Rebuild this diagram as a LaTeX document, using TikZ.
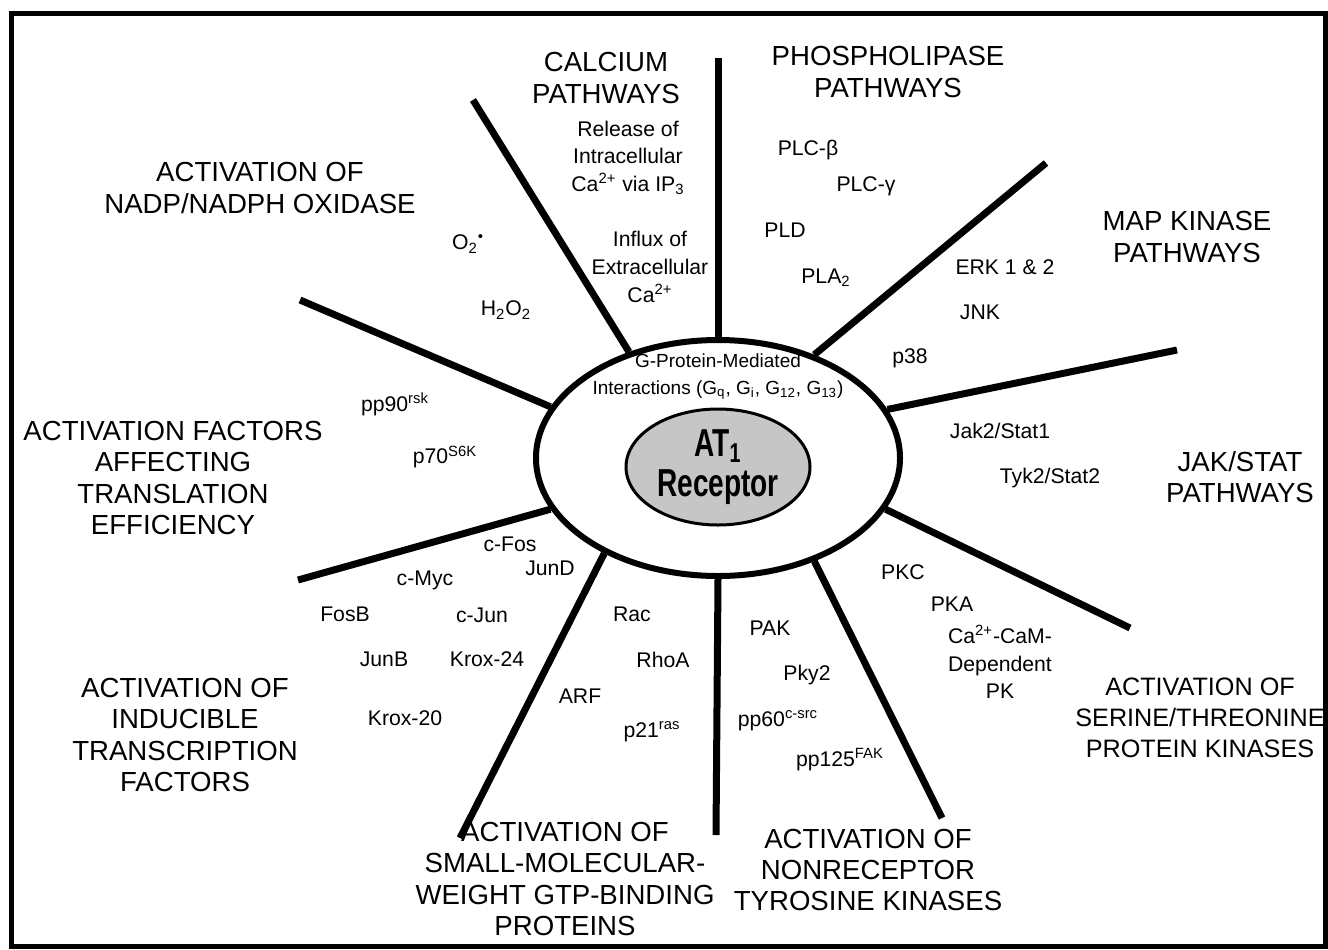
\documentclass[tikz,border=0pt]{standalone}
\usepackage{fontspec}
\setmainfont{Liberation Sans}
\newfontfamily\receptorfont[FakeStretch=0.72]{Liberation Sans}
\usetikzlibrary{shapes.geometric}

\begin{document}
\begin{tikzpicture}[
		x=0.5pt, y=-0.5pt,
		pathway/.style={align=center, inner sep=0pt, font=\fontsize{13.8}{15.6}\selectfont},
		item/.style={align=center, inner sep=0pt, font=\fontsize{10.6}{13.8}\selectfont},
		spoke/.style={line width=3.5pt},
		hub/.style={draw, ellipse, line width=3pt, minimum width=182pt, minimum height=118pt, inner sep=0pt},
		receptor/.style={draw, ellipse, line width=1.5pt, fill=gray!45, minimum width=92pt, minimum height=58pt, inner sep=0pt, align=center, font=\receptorfont\bfseries\fontsize{19.5}{20}\selectfont},
	]
		\useasboundingbox (0,0) rectangle (1328,949);
		\draw[line width=2.5pt] (11,13) rectangle (1325,946);

		\node [hub] (hub) at (718,458) {};
		\node [receptor] (at1) at (718,467) {AT\textsubscript{1}\\Receptor};
		\node [item, font=\fontsize{9.5}{13.5}\selectfont] (gprot) at (718,376) {G-Protein-Mediated\\Interactions (G\textsubscript{q}, G\textsubscript{i}, G\textsubscript{12}, G\textsubscript{13})};

		\coordinate (s1) at (718,58);
		\coordinate (s2) at (473,100);
		\coordinate (s3) at (300,300);
		\coordinate (s4) at (298,580);
		\coordinate (s5) at (460,838);
		\coordinate (s6) at (716,835);
		\coordinate (s7) at (942,818);
		\coordinate (s8) at (1130,628);
		\coordinate (s9) at (1177,350);
		\coordinate (s10) at (1046,163);
		\foreach \a/\s in {90/s1, 130/s2, 163/s3, 197/s4, 220/s5, 270/s6, 313/s7, 343/s8, 16/s9, 47/s10}
			\draw [spoke] (hub.\a) -- (\s);

		% pathway headings
		\node [pathway] (calcium) at (606,78) {CALCIUM\\PATHWAYS};
		\node [pathway] (phospho) at (888,72) {PHOSPHOLIPASE\\PATHWAYS};
		\node [pathway] (nadph) at (260,188) {ACTIVATION OF\\NADP/NADPH OXIDASE};
		\node [pathway] (mapk) at (1187,237) {MAP KINASE\\PATHWAYS};
		\node [pathway] (jakstat) at (1240,477) {JAK/STAT\\PATHWAYS};
		\node [pathway] (transl) at (173,478) {ACTIVATION FACTORS\\AFFECTING\\TRANSLATION\\EFFICIENCY};
		\node [pathway] (transc) at (185,735) {ACTIVATION OF\\INDUCIBLE\\TRANSCRIPTION\\FACTORS};
		\node [pathway] (gtp) at (565,879) {ACTIVATION OF\\SMALL-MOLECULAR-\\WEIGHT GTP-BINDING\\PROTEINS};
		\node [pathway] (tyrosine) at (868,870) {ACTIVATION OF\\NONRECEPTOR\\TYROSINE KINASES};
		\node [pathway, font=\fontsize{12.6}{15.6}\selectfont] (serine) at (1200,718) {ACTIVATION OF\\SERINE/THREONINE\\PROTEIN KINASES};

		% calcium
		\node [item] (release) at (628,158) {Release of\\Intracellular\\Ca\textsuperscript{2+} via IP\textsubscript{3}};
		\node [item] (influx) at (650,267) {Influx of\\Extracellular\\Ca\textsuperscript{2+}};
		% phospholipase
		\node [item] (plcb) at (808,150) {PLC-β};
		\node [item] (plcg) at (866,186) {PLC-γ};
		\node [item] (pld) at (785,230) {PLD};
		\node [item] (pla2) at (826,278) {PLA\textsubscript{2}};
		% map kinase
		\node [item] (erk) at (1005,267) {ERK 1 \& 2};
		\node [item] (jnk) at (980,312) {JNK};
		\node [item] (p38) at (910,358) {p38};
		% jak/stat
		\node [item] (jak2) at (1000,431) {Jak2/Stat1};
		\node [item] (tyk2) at (1050,478) {Tyk2/Stat2};
		% serine/threonine
		\node [item] (pkc) at (903,572) {PKC};
		\node [item] (pka) at (952,604) {PKA};
		\node [item] (camk) at (1000,662) {Ca\textsuperscript{2+}-CaM-\\Dependent\\PK};
		% nonreceptor tyrosine
		\node [item] (pak) at (770,628) {PAK};
		\node [item] (pky2) at (807,675) {Pky2};
		\node [item] (src) at (778,721) {pp60\textsuperscript{c-src}};
		\node [item] (fak) at (840,760) {pp125\textsuperscript{FAK}};
		% small gtp-binding
		\node [item] (rac) at (632,614) {Rac};
		\node [item] (rhoa) at (663,660) {RhoA};
		\node [item] (arf) at (580,696) {ARF};
		\node [item] (ras) at (652,732) {p21\textsuperscript{ras}};
		% transcription
		\node [item] (cfos) at (510,544) {c-Fos};
		\node [item] (jund) at (550,568) {JunD};
		\node [item] (cmyc) at (425,580) {c-Myc};
		\node [item] (fosb) at (345,614) {FosB};
		\node [item] (cjun) at (482,615) {c-Jun};
		\node [item] (junb) at (384,659) {JunB};
		\node [item] (krox24) at (487,659) {Krox-24};
		\node [item] (krox20) at (405,718) {Krox-20};
		% translation
		\node [item] (rsk) at (395,404) {pp90\textsuperscript{rsk}};
		\node [item] (s6k) at (445,457) {p70\textsuperscript{S6K}};
		% nadph oxidase
		\node [item] (o2) at (468,244) {O\textsubscript{2}\textsuperscript{•}};
		\node [item] (h2o2) at (506,310) {H\textsubscript{2}O\textsubscript{2}};
	\end{tikzpicture}
\end{document}
